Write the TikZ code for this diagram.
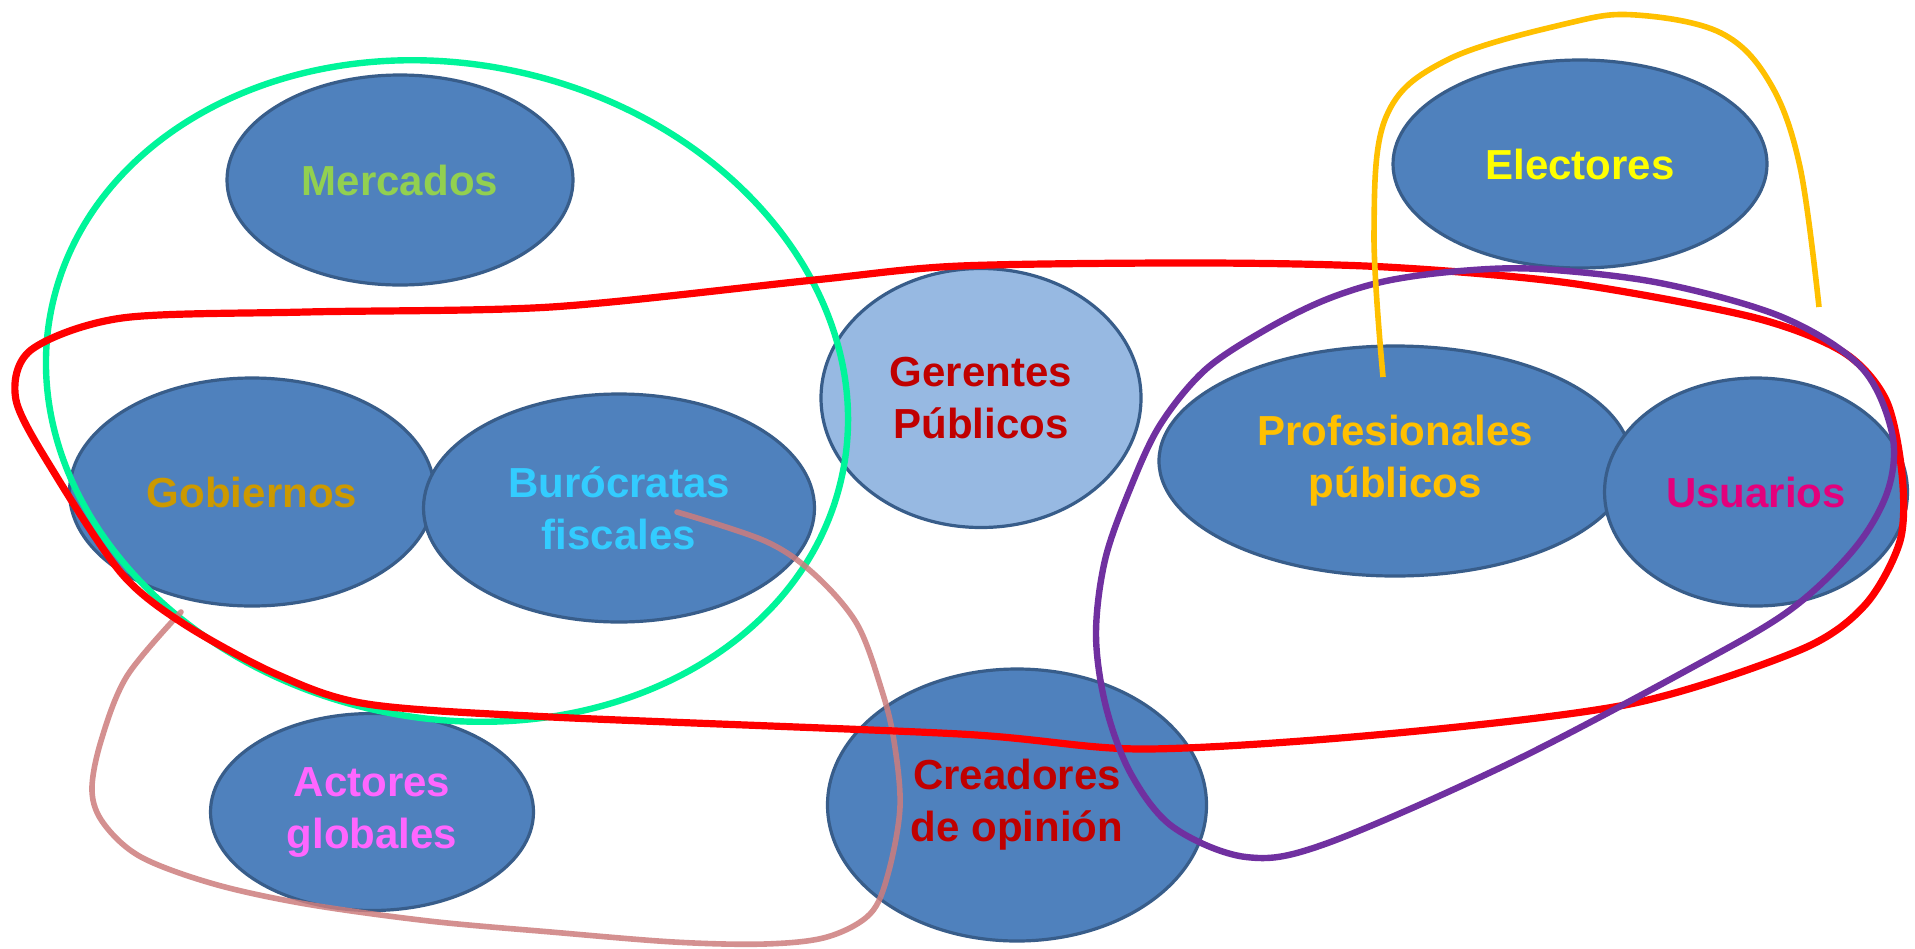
\documentclass[tikz,border=0pt]{standalone}
\usepackage{fontspec}
\setmainfont{Liberation Sans}
\usetikzlibrary{shapes.geometric}
\definecolor{bluefill}{RGB}{79,129,189}
\definecolor{blueborder}{RGB}{56,93,138}
\definecolor{lightfill}{RGB}{151,185,226}
\definecolor{cgreen}{RGB}{0,245,154}
\definecolor{cred}{RGB}{255,0,0}
\definecolor{cpurple}{RGB}{112,48,160}
\definecolor{corange}{RGB}{255,192,0}
\definecolor{crose}{RGB}{205,125,125}
\definecolor{tmerc}{RGB}{146,208,80}
\definecolor{tgob}{RGB}{204,153,0}
\definecolor{tburo}{RGB}{51,204,255}
\definecolor{tdark}{RGB}{192,0,0}
\definecolor{telec}{RGB}{255,255,0}
\definecolor{tprof}{RGB}{255,192,0}
\definecolor{tusu}{RGB}{228,0,124}
\definecolor{tact}{RGB}{255,102,255}
\tikzset{
  actor/.style={ellipse, draw=blueborder, fill=bluefill, line width=1.6pt, inner sep=0pt,
    align=center, font=\fontsize{21pt}{26pt}\selectfont\bfseries},
  loopline/.style={line width=3.2pt, line cap=round, line join=round},
}
\begin{document}
\begin{tikzpicture}[x=0.5pt,y=-0.5pt]
\useasboundingbox (0,0) rectangle (1915,948);
\fill[white] (0,0) rectangle (1915,948);
% actors
\node[actor, minimum width=173pt, minimum height=105pt, text=tmerc] (merc) at (400,180) {Mercados};
\node[actor, minimum width=182.5pt, minimum height=114pt, text=tgob] (gob) at (252,492) {Gobiernos};
\node[actor, minimum width=195.5pt, minimum height=114pt, text=tburo] (buro) at (619,508) {Burócratas\\fiscales};
\node[actor, minimum width=160pt, minimum height=129.5pt, fill=lightfill, text=tdark] (ger) at (981,398) {Gerentes\\Públicos};
\node[actor, minimum width=187pt, minimum height=104pt, text=telec] (elec) at (1580,164) {Electores};
\node[actor, minimum width=236pt, minimum height=115pt, text=tprof] (prof) at (1395,461) {Profesionales\\públicos};
\node[actor, minimum width=151.5pt, minimum height=114pt, text=tusu] (usu) at (1756,492) {Usuarios};
\node[actor, minimum width=161.5pt, minimum height=98.5pt, text=tact] (act) at (372,812) {Actores\\globales};
\node[actor, minimum width=189.5pt, minimum height=136pt, text=tdark] (crea) at (1017,805) {Creadores\\de opinión};
% green loop
\coordinate (gc) at (447,391);
\draw[loopline, cgreen, rotate around={-12:(gc)}] (gc) ellipse [x radius=404, y radius=327];
% rose loop
\draw[loopline, crose, opacity=0.85, line width=2.8pt] plot[smooth, tension=0.55] coordinates {
 (677,512) (765,541) (814,574) (857,624) (882,691) (894,741) (900,807) (888,874)
 (870,914) (827,937) (765,944) (674,942) (551,932) (429,921) (306,904) (214,884)
 (141,857) (104,824) (92,791) (101,741) (127,676) (181,612)};
% red loop
\draw[loopline, cred, line width=3.6pt] plot[smooth cycle, tension=0.5] coordinates {
 (960,266) (1204,263) (1386,267) (1569,283) (1752,317) (1843,352) (1886,400) (1902,474)
 (1900,541) (1865,605) (1800,650) (1630,704) (1386,734) (1143,749) (960,734) (551,717)
 (367,704) (276,674) (184,624) (122,574) (55,474) (16,400) (31,350) (122,318)
 (306,312) (551,307) (814,280)};
% purple loop
\draw[loopline, cpurple] plot[smooth cycle, tension=0.55] coordinates {
 (1539,269) (1660,283) (1782,317) (1861,367) (1892,433) (1888,490) (1855,548) (1790,610)
 (1691,668) (1508,764) (1325,844) (1246,857) (1173,827) (1131,774) (1106,707) (1096,635)
 (1105,560) (1130,489) (1160,425) (1205,370) (1265,330) (1325,300) (1386,281) (1460,271)};
% orange loop
\draw[loopline, corange, line width=2.8pt, line cap=butt] plot[smooth, tension=0.6] coordinates {
 (1383,377) (1374,233) (1386,117) (1447,60) (1569,23) (1636,15) (1721,33) (1770,83)
 (1800,167) (1819,307)};
\end{tikzpicture}
\end{document}
